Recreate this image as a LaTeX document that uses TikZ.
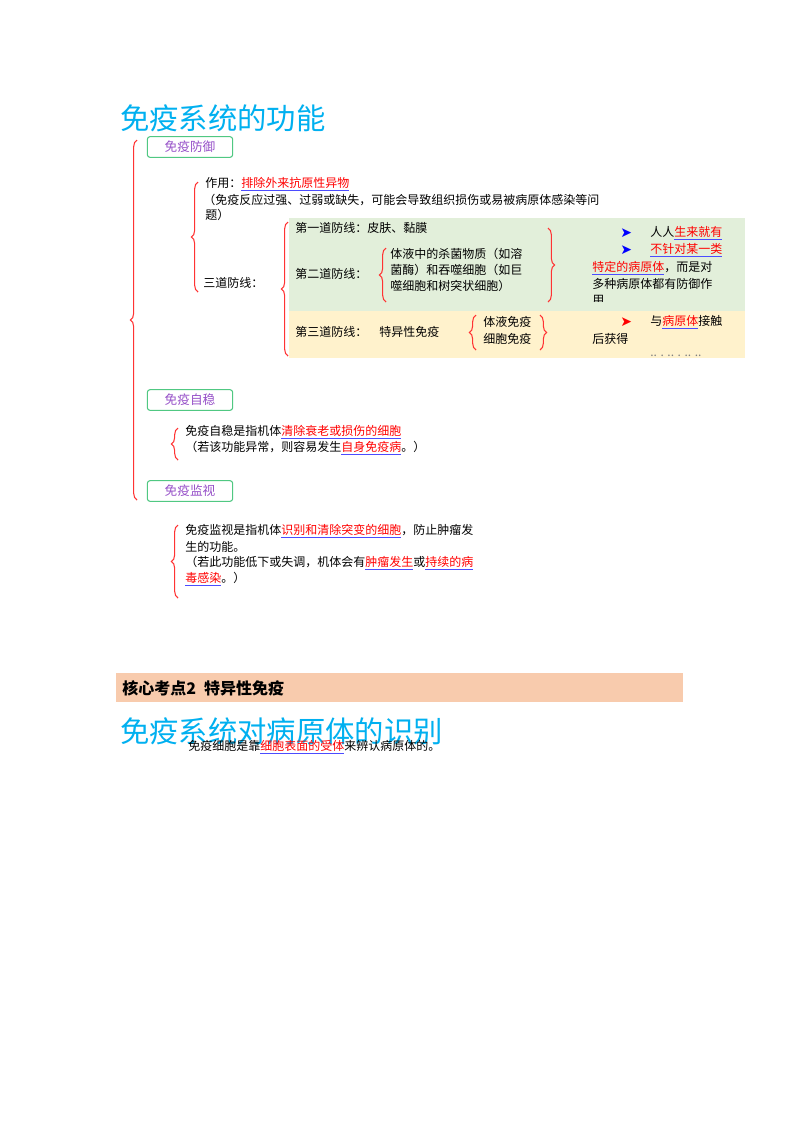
\documentclass[tikz,border=0pt]{standalone}
\usepackage{fontspec}
\setmainfont{Noto Sans CJK SC}
\newfontfamily\symfont{DejaVu Sans}
\usetikzlibrary{decorations.pathreplacing}
\definecolor{titleblue}{RGB}{0,176,240}
\definecolor{boxgreen}{RGB}{80,200,130}
\definecolor{boxpurple}{RGB}{150,80,200}
\definecolor{lightgreen}{RGB}{226,239,218}
\definecolor{lightyellow}{RGB}{255,242,204}
\definecolor{barorange}{RGB}{248,203,173}
\newcommand\hl[1]{{\color{blue!70}$\underline{\hbox{\color{red}#1}}$}}
\tikzset{
    x=0.75pt, y=-0.75pt,
    title/.style={anchor=west, inner sep=0pt, text=titleblue, font=\fontsize{22}{24}\selectfont},
    topic/.style={draw=boxgreen, rounded corners=2pt, thick, text=boxpurple, minimum width=64pt, minimum height=15.5pt, font=\fontsize{9.5}{11}\selectfont, inner sep=1pt},
    txt/.style={anchor=west, inner sep=0pt, font=\fontsize{9}{11}\selectfont},
    arr/.style={anchor=west, inner sep=0pt, font=\symfont\fontsize{10.5}{12}\selectfont},
    brace/.style={draw=red!80, thick, decorate, decoration={brace, amplitude=5pt}},
}
\begin{document}
\begin{tikzpicture}
\useasboundingbox[fill=white] (0,0) rectangle (800,1132);

% section one
\node[title] (t1) at (120,118) {免疫系统的功能};
\node[topic] (defend) at (190,147) {免疫防御};
\node[topic] (stable) at (190,400) {免疫自稳};
\node[topic] (watch) at (190,491) {免疫监视};
\coordinate (mainTop) at (137,140);
\coordinate (mainBot) at (137,500);
\draw[brace] (mainBot) -- (mainTop);

% defence
\coordinate (defTop) at (198,182);
\coordinate (defBot) at (198,292);
\draw[brace] (defBot) -- (defTop);
\node[txt] (use) at (205,184) {作用：\hl{排除外来抗原性异物}};
\node[txt] (use2) at (203,200) {（免疫反应过强、过弱或缺失，可能会导致组织损伤或易被病原体感染等问};
\node[txt] (use3) at (205,215) {题）};
\node[txt] (three) at (203,283) {三道防线：};

\fill[lightgreen] (289,218) rectangle (745,311);
\fill[lightyellow] (289,311) rectangle (745,358);
\coordinate (lineTop) at (288,222);
\coordinate (lineBot) at (288,356);
\draw[brace] (lineBot) -- (lineTop);

\node[txt] (first) at (295,228) {第一道防线：皮肤、黏膜};
\node[txt] (second) at (295,274) {第二道防线：};
\coordinate (secTop) at (386,248);
\coordinate (secBot) at (386,302);
\draw[brace] (secBot) -- (secTop);
\node[txt] (sec1) at (390,254) {体液中的杀菌物质（如溶};
\node[txt] (sec2) at (390,270) {菌酶）和吞噬细胞（如巨};
\node[txt] (sec3) at (390,286) {噬细胞和树突状细胞）};
\coordinate (nsTop) at (548,228);
\coordinate (nsBot) at (548,302);
\draw[brace] (nsTop) -- (nsBot);

\node[arr, text=blue] (a1) at (620,233) {➤};
\node[arr, text=blue] (a2) at (620,250) {➤};
\node[txt] (ns1) at (650,233) {人人\hl{生来就有}};
\node[txt] (ns2) at (650,250) {\hl{不针对某一类}};
\node[txt] (ns3) at (592,268) {\hl{特定的病原体}，而是对};
\node[txt] (ns4) at (592,284) {多种病原体都有防御作};
\begin{scope}
\clip (580,290) rectangle (745,301);
\node[txt] (ns5) at (592,300) {用};
\end{scope}

\node[txt] (third) at (295,332) {第三道防线：\quad 特异性免疫};
\coordinate (spTop) at (476,315);
\coordinate (spBot) at (476,350);
\draw[brace] (spBot) -- (spTop);
\node[txt] (sp1) at (483,322) {体液免疫};
\node[txt] (sp2) at (483,339) {细胞免疫};
\coordinate (spTop2) at (540,315);
\coordinate (spBot2) at (540,350);
\draw[brace] (spTop2) -- (spBot2);
\node[arr, text=red] (a3) at (620,322) {➤};
\node[txt] (sp3) at (650,322) {与\hl{病原体}接触};
\node[txt] (sp4) at (592,339) {后获得};
\begin{scope}
\clip (580,349) rectangle (745,358);
\node[txt] (sp5) at (650,356) {\textcolor{gray}{.. . .. . .. ..}};
\end{scope}

% self stability
\coordinate (stTop) at (178,428);
\coordinate (stBot) at (178,460);
\draw[brace] (stBot) -- (stTop);
\node[txt] (st1) at (185,432) {免疫自稳是指机体\hl{清除衰老或损伤的细胞}};
\node[txt] (st2) at (185,448) {（若该功能异常，则容易发生\hl{自身免疫病}。）};

% surveillance
\coordinate (wTop) at (178,525);
\coordinate (wBot) at (178,598);
\draw[brace] (wBot) -- (wTop);
\node[txt] (w1) at (185,531) {免疫监视是指机体\hl{识别和清除突变的细胞}，防止肿瘤发};
\node[txt] (w2) at (185,547) {生的功能。};
\node[txt] (w3) at (185,563) {（若此功能低下或失调，机体会有\hl{肿瘤发生}或\hl{持续的病}};
\node[txt] (w4) at (185,579) {\hl{毒感染}。）};

% section two
\fill[barorange] (116,673) rectangle (683,702);
\node[txt, font=\fontsize{12}{14}\selectfont\bfseries] (core) at (122,688) {核心考点2\enspace 特异性免疫};
\node[title] (t2) at (120,731) {免疫系统对病原体的识别};
\node[txt] (rec) at (188,747) {免疫细胞是靠\hl{细胞表面的受体}来辨认病原体的。};
\end{tikzpicture}
\end{document}
